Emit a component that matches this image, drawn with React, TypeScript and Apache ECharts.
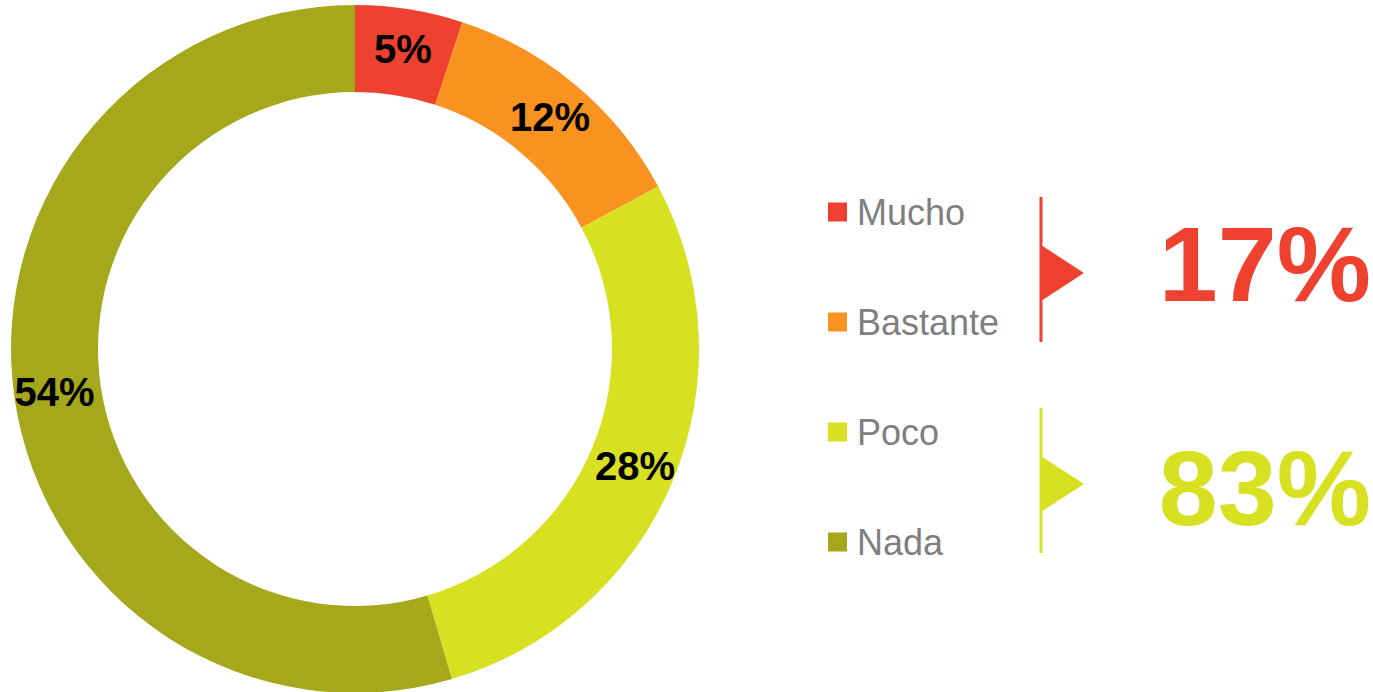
import React, { useEffect, useRef } from "react";
import * as echarts from "echarts";

const categories = ["Mucho", "Bastante", "Poco", "Nada"];
const values = [5, 12, 28, 54];
const colors = ["#EF4130", "#F7931E", "#D7E021", "#A5A81B"];
const groupTotals = ["17%", "83%"];
const groupColors = ["#EF4130", "#D7E021"];

const FONT = "'Liberation Sans', Arial, Helvetica, sans-serif";

export default function App() {
  const ref = useRef<HTMLDivElement>(null);
  useEffect(() => {
    if (!ref.current) return;
    const chart = echarts.init(ref.current, null, { renderer: "svg" });
    const groupTops = [197, 408];
    const textCenters = [264, 488];
    const graphic: any[] = [];
    groupTotals.forEach((t, i) => {
      const top = groupTops[i];
      const c = groupColors[i];
      graphic.push({
        type: "rect",
        shape: { x: 1039.5, y: top, width: 3, height: 145 },
        style: { fill: c },
      });
      graphic.push({
        type: "polygon",
        shape: { points: [[1041, top + 48], [1084, top + 76], [1041, top + 104]] },
        style: { fill: c },
      });
      graphic.push({
        type: "text",
        x: 1371,
        y: textCenters[i],
        style: {
          text: t,
          fill: c,
          font: `bold 106px ${FONT}`,
          textAlign: "right",
          textVerticalAlign: "middle",
        },
      });
    });
    chart.setOption({
      animation: false,
      color: colors,
      legend: {
        orient: "vertical",
        left: 828,
        top: 192,
        padding: 0,
        icon: "rect",
        itemWidth: 19,
        itemHeight: 19,
        itemGap: 70,
        data: categories,
        textStyle: {
          color: "#7F7F7F",
          fontSize: 36,
          lineHeight: 40,
          fontFamily: FONT,
          padding: [0, 0, 0, 5],
        },
        selectedMode: false,
      },
      graphic,
      series: [
        {
          type: "pie",
          center: [355, 349],
          radius: [257, 344],
          startAngle: 90,
          clockwise: true,
          avoidLabelOverlap: false,
          label: {
            show: true,
            position: "inside",
            formatter: "{c}%",
            color: "#000",
            fontSize: 40,
            fontWeight: "bold",
            fontFamily: FONT,
          },
          labelLine: { show: false },
          itemStyle: { borderWidth: 0 },
          emphasis: { disabled: true },
          data: categories.map((name, i) => ({ name, value: values[i] })),
        },
      ],
    });
    return () => chart.dispose();
  }, []);
  return <div ref={ref} style={{ width: 1373, height: 692, position: "absolute", left: 0, top: 0 }} />;
}
